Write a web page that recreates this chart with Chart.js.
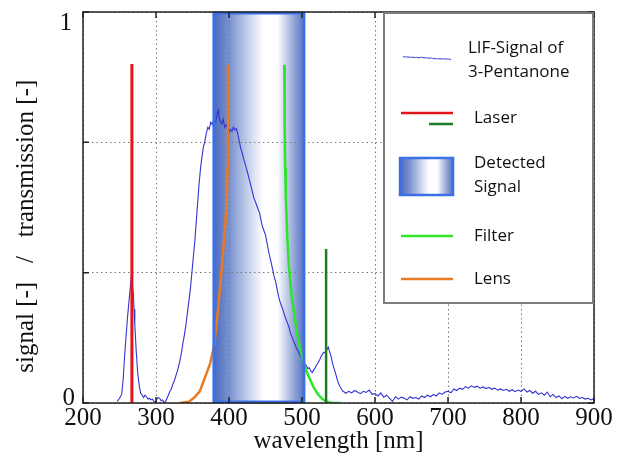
<!DOCTYPE html>
<html>
<head>
<meta charset="utf-8">
<script src="https://cdn.jsdelivr.net/npm/chart.js@4.4.1/dist/chart.umd.min.js"></script>
<style>
html,body{margin:0;padding:0;background:#fff;}
</style>
</head>
<body>
<canvas id="chart" width="627" height="470"></canvas>
<script>
// LIF spectrum of 3-pentanone
const lifNm = [247,250,253,255,257,259,261,263,265,266,267,268,269,270,271,273,275,277,279,281,283,285,287,289,291,293,295,297,299,301,303,305,307,309,311,313,315,317,319,321,323,325,327,329,331,333,335,337,339,341,343,345,347,349,351,353,355,357,359,361,363,365,367,369,371,373,375,377,379,381,383,385,386,388,390,392,394,396,398,400,402,404,406,408,410,412,414,416,418,420,422,424,426,428,430,432,434,436,438,440,442,444,446,448,450,452,454,456,458,460,462,464,466,468,470,472,474,476,478,480,482,484,486,488,490,492,494,496,498,500,502,504,506,508,510,512,514,516,518,520,522,524,526,528,530,532,534,536,538,540,542,544,546,548,550,552,554,556,558,560,564,568,572,576,580,584,588,592,596,600,604,608,612,616,620,624,628,632,636,640,644,648,652,656,660,664,668,672,676,680,684,688,692,696,700,704,708,712,716,720,724,728,732,736,740,744,748,752,756,760,764,768,772,776,780,784,788,792,796,800,804,808,812,816,820,824,828,832,836,840,844,848,852,856,860,864,868,872,876,880,884,888,892,896,899];
const lifSignal = [0.004,0.012,0.022,0.06,0.12,0.17,0.22,0.26,0.30,0.32,0.31,0.295,0.28,0.24,0.2,0.13,0.075,0.045,0.025,0.02,0.014,0.02,0.016,0.01,0.012,0.008,0.01,0.004,0.002,0.009,0.014,0.012,0.006,0.008,0.001,0.003,0.012,0.02,0.03,0.036,0.048,0.056,0.068,0.08,0.094,0.11,0.13,0.155,0.175,0.2,0.23,0.26,0.29,0.33,0.37,0.41,0.46,0.51,0.56,0.6,0.63,0.655,0.67,0.69,0.705,0.7,0.718,0.712,0.725,0.718,0.73,0.748,0.735,0.72,0.714,0.726,0.705,0.712,0.7,0.692,0.7,0.695,0.705,0.698,0.702,0.688,0.67,0.652,0.64,0.625,0.612,0.598,0.585,0.57,0.556,0.54,0.525,0.515,0.505,0.495,0.485,0.466,0.45,0.44,0.43,0.41,0.39,0.373,0.357,0.34,0.322,0.31,0.29,0.272,0.258,0.248,0.238,0.225,0.215,0.205,0.195,0.18,0.17,0.16,0.152,0.142,0.135,0.128,0.12,0.114,0.108,0.1,0.095,0.088,0.09,0.082,0.078,0.084,0.09,0.097,0.103,0.11,0.118,0.125,0.13,0.128,0.136,0.143,0.13,0.118,0.1,0.088,0.076,0.062,0.05,0.042,0.036,0.03,0.028,0.025,0.03,0.026,0.032,0.028,0.024,0.03,0.027,0.033,0.022,0.024,0.018,0.026,0.015,0.02,0.012,0.004,0.016,0.01,0.015,0.012,0.008,0.016,0.012,0.014,0.01,0.018,0.014,0.02,0.016,0.022,0.018,0.026,0.022,0.028,0.03,0.026,0.036,0.032,0.038,0.035,0.042,0.038,0.044,0.04,0.043,0.038,0.041,0.037,0.04,0.035,0.038,0.033,0.036,0.032,0.035,0.03,0.034,0.029,0.033,0.03,0.036,0.028,0.032,0.025,0.03,0.022,0.026,0.02,0.028,0.016,0.022,0.014,0.018,0.011,0.017,0.012,0.016,0.013,0.017,0.012,0.014,0.01,0.012,0.008,0.01];

// laser lines
const laserUvNm = 267, laserUvHeight = 0.867;
const laserGreenNm = 533, laserGreenHeight = 0.394;

// lens transmission
const lensNm = [333,345,353,360,367,374,380,385,389,392,395,397,398,398.6];
const lensTrans = [0,0.003,0.015,0.03,0.065,0.1,0.15,0.24,0.32,0.39,0.46,0.52,0.6,0.865];

// filter transmission
const filterNm = [475.8,476.3,477,478,480,482,486,490,494,498,502,506,511,516,522,528,534,540,552];
const filterTrans = [0.865,0.7,0.6,0.52,0.42,0.35,0.27,0.22,0.17,0.135,0.105,0.082,0.06,0.04,0.022,0.01,0.003,0,0];

// detected band
const detectedBand = [378, 504];

// axes
const xMin = 200, xMax = 900, xStep = 100;
const yTicks = [0, 1/3, 2/3, 1];
const yTickLabels = ["0", "", "", "1"];

const legendItems = [
  ["LIF-Signal of", "3-Pentanone"],
  ["Laser"],
  ["Detected", "Signal"],
  ["Filter"],
  ["Lens"]
];

const colBlue = "#3434d0";
const colRed = "#e3141c";
const colDarkGreen = "#1d7d22";
const colGreen = "#2ee52a";
const colOrange = "#ea7a22";
const colBand = "#3b70e6";
const serif = "'Liberation Serif', 'Times New Roman', serif";

function pts(xs, ys){ return xs.map((x,i)=>({x:x, y:ys[i]})); }

function bandGradient(ctx, x0, x1){
  const g = ctx.createLinearGradient(x0, 0, x1, 0);
  g.addColorStop(0, "rgb(72,104,190)");
  g.addColorStop(0.2, "rgb(128,152,210)");
  g.addColorStop(0.45, "rgb(222,228,244)");
  g.addColorStop(0.55, "#ffffff");
  g.addColorStop(0.7, "#ffffff");
  g.addColorStop(0.86, "rgb(160,176,220)");
  g.addColorStop(1, "rgb(80,110,194)");
  return g;
}

const decor = {
  id: "decor",
  beforeDraw(chart){
    const {ctx, chartArea:a, scales:{x}} = chart;
    const x0 = x.getPixelForValue(detectedBand[0]);
    const x1 = x.getPixelForValue(detectedBand[1]);
    ctx.save();
    ctx.fillStyle = bandGradient(ctx, x0, x1);
    ctx.fillRect(x0, a.top, x1-x0, a.bottom-a.top);
    ctx.restore();
  },
  afterDatasetsDraw(chart){
    const {ctx, chartArea:a, scales:{x, y}} = chart;
    const x0 = x.getPixelForValue(detectedBand[0]);
    const x1 = x.getPixelForValue(detectedBand[1]);
    ctx.save();
    // band outline
    ctx.strokeStyle = colBand;
    ctx.lineWidth = 3;
    ctx.strokeRect(x0+1, a.top+1, x1-x0-2, a.bottom-a.top-2);

    // frame + inward ticks
    ctx.strokeStyle = "#222";
    ctx.lineWidth = 1.5;
    ctx.strokeRect(a.left, a.top, a.right-a.left, a.bottom-a.top);
    ctx.beginPath();
    x.ticks.forEach(t=>{
      const px = x.getPixelForValue(t.value);
      ctx.moveTo(px, a.bottom); ctx.lineTo(px, a.bottom-6);
      ctx.moveTo(px, a.top); ctx.lineTo(px, a.top+6);
    });
    y.ticks.forEach(t=>{
      const py = y.getPixelForValue(t.value);
      ctx.moveTo(a.left, py); ctx.lineTo(a.left+6, py);
      ctx.moveTo(a.right, py); ctx.lineTo(a.right-6, py);
    });
    ctx.stroke();

    // y tick labels (0 sits a little above, 1 a little below its tick)
    ctx.fillStyle = "#111";
    ctx.font = "25px " + serif;
    ctx.textAlign = "right";
    ctx.textBaseline = "middle";
    y.ticks.forEach((t, i)=>{
      const lab = yTickLabels[i];
      if(!lab) return;
      const py = y.getPixelForValue(t.value);
      const dy = t.value === 0 ? -5 : 11;
      ctx.fillText(lab, a.left - (t.value === 0 ? 8 : 11), py + dy);
    });

    // legend box
    const L = a.right - 210, T = a.top + 1, W = 209, H = 290;
    ctx.fillStyle = "#fff";
    ctx.fillRect(L, T, W, H);
    ctx.strokeStyle = "#7c7c7c";
    ctx.lineWidth = 2;
    ctx.strokeRect(L, T, W, H);

    const sx = L + 17, ex = L + 69, tx = L + 90;
    // LIF sample: tail of the spectrum squeezed into the symbol
    const tail = lifSignal.slice(-40);
    ctx.strokeStyle = colBlue;
    ctx.lineWidth = 1;
    ctx.beginPath();
    tail.forEach((v,i)=>{
      const px = sx + 2 + i*(ex-sx-4)/(tail.length-1);
      const py = T + 47 - v*80;
      if(i===0) ctx.moveTo(px,py); else ctx.lineTo(px,py);
    });
    ctx.stroke();

    // laser
    ctx.lineWidth = 2.5;
    ctx.strokeStyle = colRed;
    ctx.beginPath(); ctx.moveTo(sx, T+100); ctx.lineTo(ex, T+100); ctx.stroke();
    ctx.strokeStyle = colDarkGreen;
    ctx.beginPath(); ctx.moveTo(sx+28, T+111); ctx.lineTo(ex, T+111); ctx.stroke();

    // detected
    ctx.fillStyle = bandGradient(ctx, sx-1, ex);
    ctx.fillRect(sx-1, T+145, ex-sx+1, 37);
    ctx.strokeStyle = colBand;
    ctx.lineWidth = 2.5;
    ctx.strokeRect(sx-1, T+145, ex-sx+1, 37);

    // filter, lens
    ctx.lineWidth = 2.5;
    ctx.strokeStyle = colGreen;
    ctx.beginPath(); ctx.moveTo(sx, T+223); ctx.lineTo(ex, T+223); ctx.stroke();
    ctx.strokeStyle = colOrange;
    ctx.beginPath(); ctx.moveTo(sx, T+266); ctx.lineTo(ex, T+266); ctx.stroke();

    ctx.fillStyle = "#111";
    ctx.font = "17px 'Open Sans'";
    ctx.textBaseline = "middle";
    ctx.textAlign = "left";
    const rows = [[T+35, T+59], [T+105], [T+150, T+174], [T+223], [T+266]];
    legendItems.forEach((lines, i)=>{
      lines.forEach((s, j)=>{
        ctx.fillText(s, i===0 ? tx-6 : tx, rows[i][j]);
      });
    });
    ctx.restore();
  }
};

const lineDs = (label, data, color, width) => ({
  label, data, borderColor: color, borderWidth: width,
  pointRadius: 0, tension: 0, fill: false
});

new Chart(document.getElementById("chart"), {
  type: "line",
  data: {
    datasets: [
      lineDs("Laser", [{x:laserUvNm,y:0},{x:laserUvNm,y:laserUvHeight}], colRed, 3),
      lineDs("Laser 532", [{x:laserGreenNm,y:0},{x:laserGreenNm,y:laserGreenHeight}], colDarkGreen, 2.5),
      lineDs("Filter", pts(filterNm, filterTrans), colGreen, 2.5),
      lineDs("Lens", pts(lensNm, lensTrans), colOrange, 2.5),
      lineDs("LIF-Signal of 3-Pentanone", pts(lifNm, lifSignal), colBlue, 1.1)
    ]
  },
  options: {
    responsive: false,
    animation: false,
    layout: { padding: { left: 0, top: 12, right: 33, bottom: 0 } },
    plugins: { legend: { display: false }, tooltip: { enabled: false } },
    scales: {
      x: {
        type: "linear", min: xMin, max: xMax,
        ticks: { stepSize: xStep, padding: 0, color: "#111",
          font: { family: serif, size: 25 } },
        grid: { color: "#777", lineWidth: 1, drawTicks: false },
        border: { display: false, dash: [1.5, 3] },
        title: { display: true, text: "wavelength [nm]", color: "#111",
          font: { family: serif, size: 25 },
          padding: { top: 0, bottom: 14 } },
        afterFit(s){ s.height = 67; s.paddingLeft = 0; s.paddingRight = 0; }
      },
      y: {
        type: "linear", min: 0, max: 1,
        afterBuildTicks(s){ s.ticks = yTicks.map(v=>({value:v})); },
        ticks: { display: false },
        grid: { color: "#777", lineWidth: 1, drawTicks: false },
        border: { display: false, dash: [1.5, 3] },
        title: { display: true, text: "signal [-]   /   transmission [-]" + "\u00a0".repeat(6), color: "#111",
          font: { family: serif, size: 25 },
          padding: { top: 11, bottom: 0 } },
        afterFit(s){ s.width = 83; s.paddingTop = 0; s.paddingBottom = 0; }
      }
    }
  },
  plugins: [decor]
});
</script>
</body>
</html>
